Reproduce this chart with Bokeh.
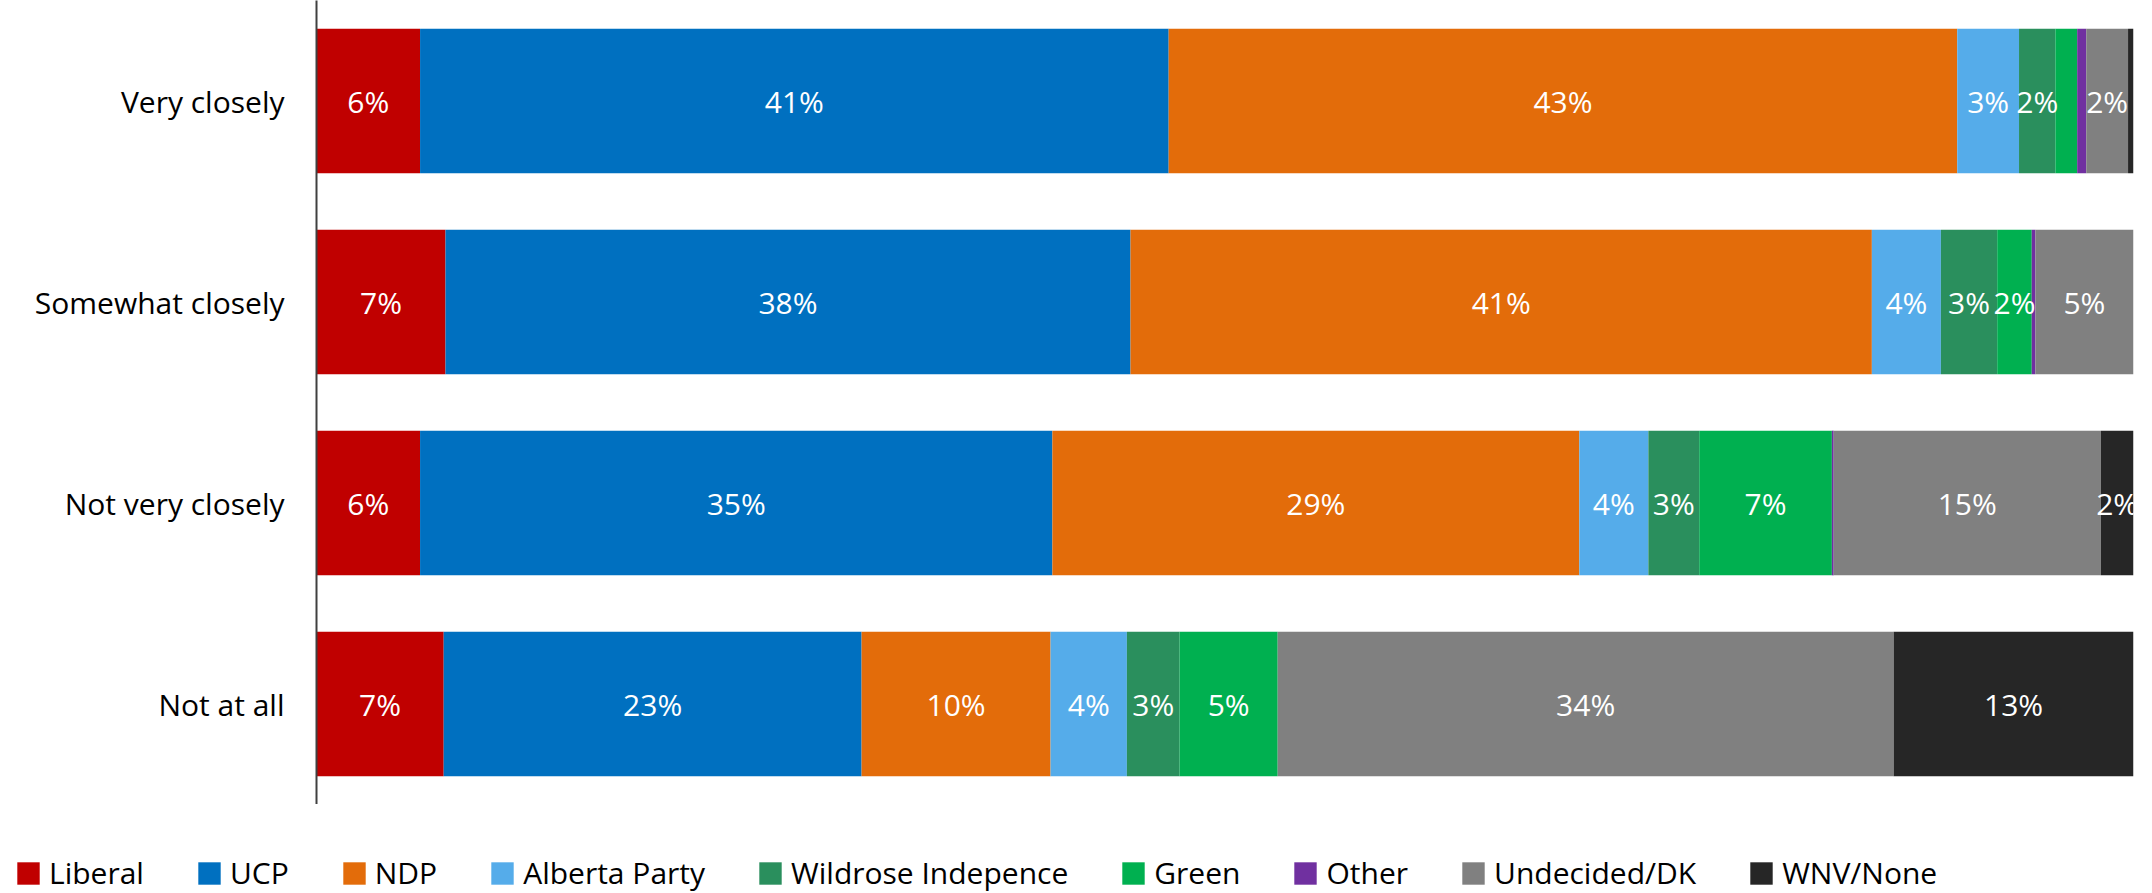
from bokeh.plotting import figure
from bokeh.models import Range1d, FactorRange, Legend, LegendItem, ColumnDataSource
from bokeh.core.properties import value
from bokeh.embed import file_html
from bokeh.resources import INLINE

categories = ["Very closely", "Somewhat closely", "Not very closely", "Not at all"]
parties = ["Liberal", "UCP", "NDP", "Alberta Party", "Wildrose Indepence",
           "Green", "Other", "Undecided/DK", "WNV/None"]
colors = ["#C00000", "#0070C0", "#E36C0A", "#55ACEA", "#2A8F5D",
          "#00B050", "#7030A0", "#808080", "#262626"]

liberal   = [5.7, 7.1, 5.7, 7.0]
ucp       = [41.2, 37.7, 34.8, 23.0]
ndp       = [43.4, 40.8, 29.0, 10.4]
alberta   = [3.4, 3.8, 3.8, 4.2]
wildrose  = [2.0, 3.1, 2.8, 2.9]
green     = [1.2, 1.9, 7.3, 5.4]
other     = [0.5, 0.2, 0.1, 0.0]
undecided = [2.3, 5.4, 14.7, 33.9]
wnv       = [0.3, 0.0, 1.8, 13.2]

series = [liberal, ucp, ndp, alberta, wildrose, green, other, undecided, wnv]

FONT = "Open Sans"

p = figure(width=2140, height=804, output_backend="svg", toolbar_location=None,
           x_range=Range1d(0, 100),
           y_range=FactorRange(factors=list(reversed(categories))),
           min_border_left=316, min_border_right=7, min_border_top=0,
           min_border_bottom=0)
p.outline_line_color = None
p.xaxis.visible = False
p.xgrid.visible = False
p.ygrid.visible = False
p.yaxis.axis_line_color = "#404040"
p.yaxis.axis_line_width = 2
p.yaxis.major_tick_line_color = None
p.yaxis.minor_tick_line_color = None
p.yaxis.major_tick_out = 0
p.yaxis.major_label_standoff = 32
p.yaxis.major_label_text_font = FONT
p.yaxis.major_label_text_font_size = "30px"
p.yaxis.major_label_text_color = "#000000"

# legend strip (separate root, drawn below the chart)
pl = figure(width=2140, height=90, output_backend="svg", toolbar_location=None,
            x_range=Range1d(0, 100),
            y_range=FactorRange(factors=list(reversed(categories))),
            x_axis_location=None, y_axis_location=None,
            min_border_left=0, min_border_right=0, min_border_top=0,
            min_border_bottom=0, styles={"margin-bottom": "-17px"})
pl.outline_line_color = None
pl.grid.visible = False

items = []
lefts = [0.0] * len(categories)
lx, ly, lt = [], [], []
for name, vals, col in zip(parties, series, colors):
    rights = [l + v for l, v in zip(lefts, vals)]
    src = ColumnDataSource(dict(y=categories, left=lefts, right=rights))
    p.hbar(y="y", left="left", right="right", height=0.72, source=src,
           fill_color=col, line_color=None)
    rl = pl.hbar(y="y", left="left", right="right", height=0.72, source=src,
                 fill_color=col, line_color=None, visible=False)
    items.append(LegendItem(label=name, renderers=[rl]))
    for c, l, v in zip(categories, lefts, vals):
        if v >= 1.5:
            lx.append(l + v / 2)
            ly.append(c)
            lt.append(f"{round(v)}%")
    lefts = rights

p.text(x=lx, y=ly, text=lt, text_color="white", text_align="center",
       text_baseline="middle", text_font=value(FONT), text_font_size="30px")

legend = Legend(items=items, orientation="horizontal", location=(14, 1),
                padding=0, margin=0, border_line_color=None,
                background_fill_alpha=0, glyph_width=28, glyph_height=28,
                label_standoff=7, spacing=51, inactive_fill_alpha=0,
                label_text_font=FONT, label_text_font_size="30px",
                label_text_color="#000000")
pl.add_layout(legend, "center")

open("out.html", "w").write(file_html([p, pl], INLINE))
